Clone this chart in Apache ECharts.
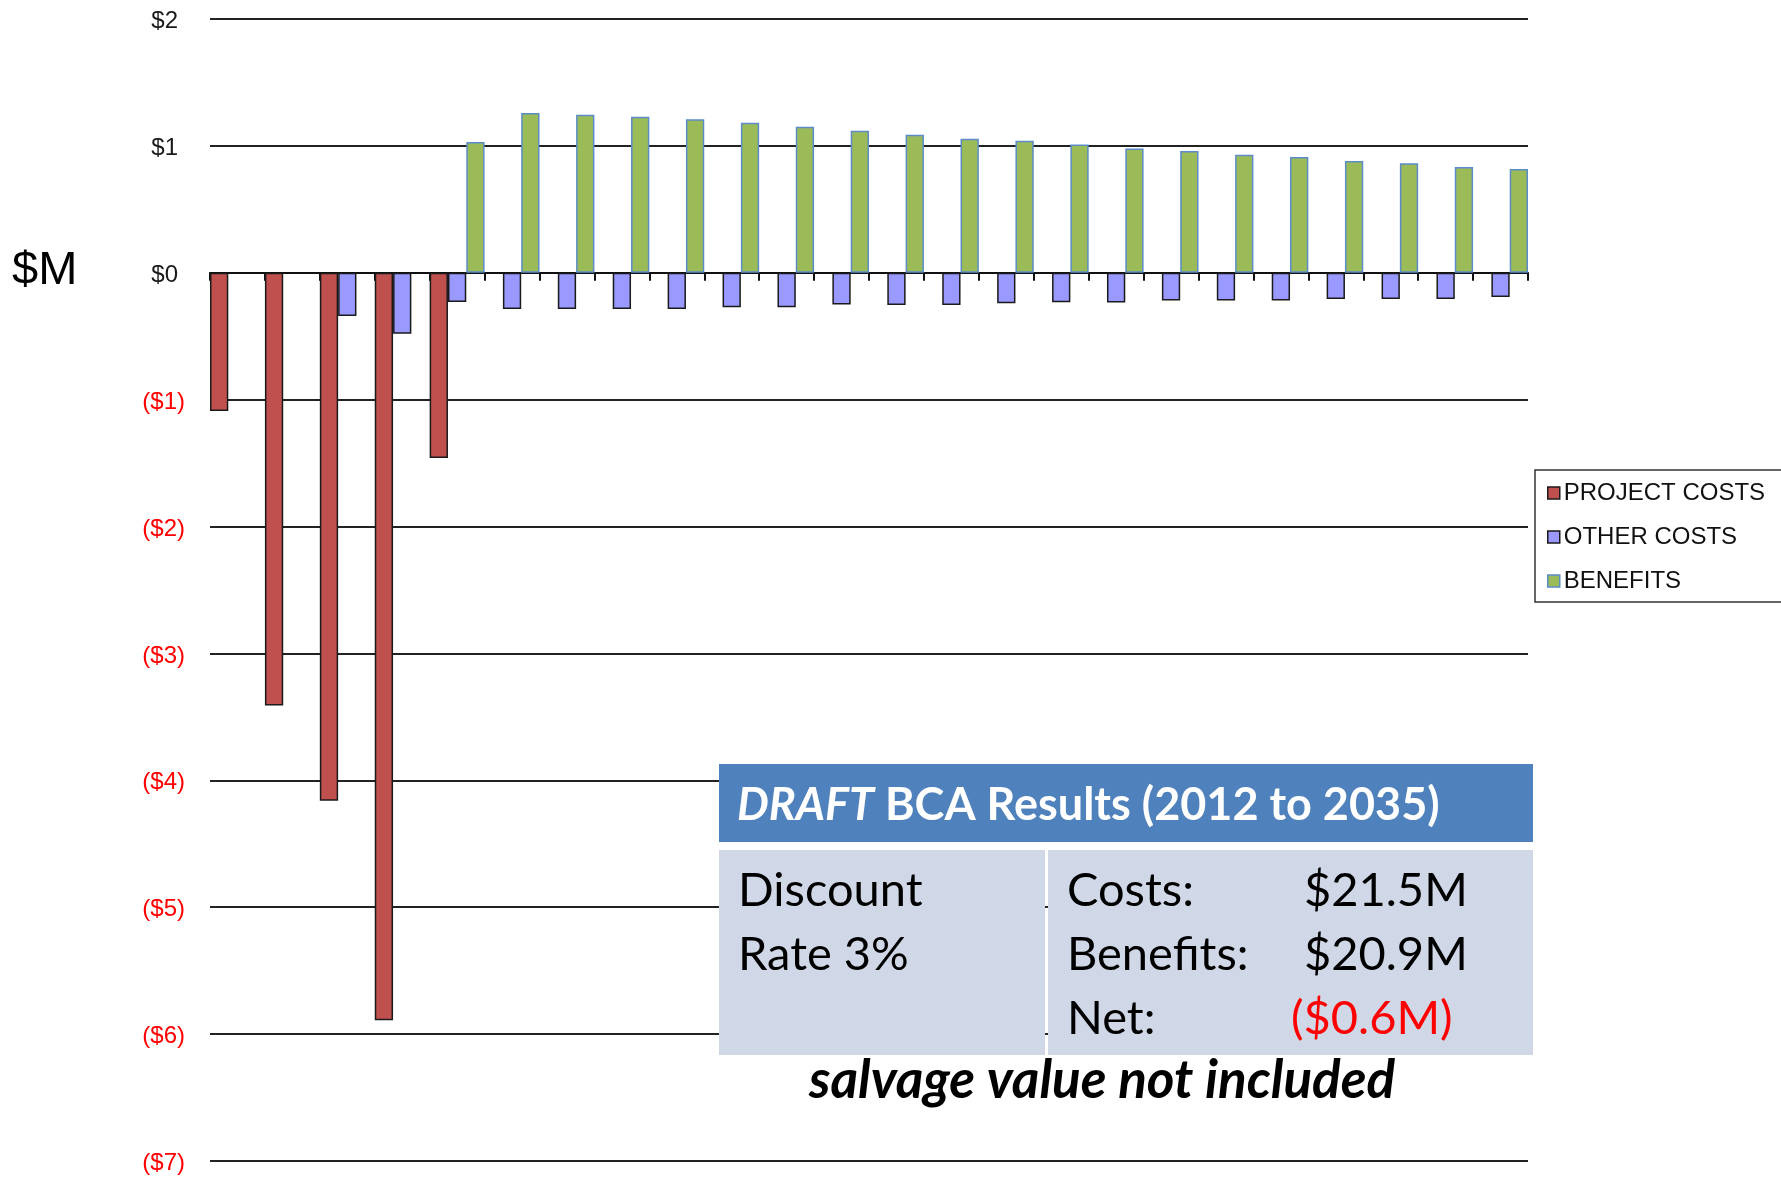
<!DOCTYPE html>
<html>
<head>
<meta charset="utf-8">
<script src="https://cdn.jsdelivr.net/npm/echarts@6/dist/echarts.min.js"></script>
<style>
  html, body { margin: 0; padding: 0; background: #ffffff; }
  #chart { width: 1781px; height: 1179px; }
</style>
</head>
<body>
<div id="chart"></div>
<script>
// ---- data ----
const years = ['2012','2013','2014','2015','2016','2017','2018','2019','2020','2021','2022','2023',
               '2024','2025','2026','2027','2028','2029','2030','2031','2032','2033','2034','2035'];
const projectCosts = [-1.09, -3.41, -4.16, -5.89, -1.46, null, null, null, null, null, null, null,
                      null, null, null, null, null, null, null, null, null, null, null, null];
const otherCosts = [null, null, -0.34, -0.48, -0.23, -0.285, -0.285, -0.285, -0.285, -0.272, -0.272, -0.25,
                    -0.253, -0.253, -0.24, -0.233, -0.235, -0.219, -0.219, -0.219, -0.206, -0.206, -0.206, -0.19];
const benefits = [null, null, null, null, 1.03, 1.26, 1.245, 1.23, 1.21, 1.183, 1.15, 1.12,
                  1.087, 1.057, 1.04, 1.01, 0.98, 0.96, 0.93, 0.912, 0.88, 0.863, 0.834, 0.817];
const yTickValues = [-7, -6, -5, -4, -3, -2, -1, 0, 1, 2];
const yTickLabels = ['($7)', '($6)', '($5)', '($4)', '($3)', '($2)', '($1)', '$0', '$1', '$2'];
const seriesNames = ['PROJECT COSTS', 'OTHER COSTS', 'BENEFITS'];
const tableTitleItalic = 'DRAFT';
const tableTitleRest = ' BCA Results (2012 to 2035)';
const tableLeft = ['Discount', 'Rate 3%'];
const tableRightLabels = ['Costs:', 'Benefits:', 'Net:'];
const tableRightValues = ['$21.5M', '$20.9M', '($0.6M)'];
const footNote = 'salvage value not included';
const yAxisName = '$M';

// ---- styles ----
const fill = ['#c0504d', '#9999ff', '#9bbb59'];
const border = ['#1a1a1a', '#1a1a1a', '#5b8cc8'];

const chart = echarts.init(document.getElementById('chart'));
const bodyFont = 'Lato, "Open Sans", sans-serif';
const bodySize = 47;

function mkSeries(i, data) {
  return {
    name: seriesNames[i],
    type: 'bar',
    data: data,
    barGap: '0%',
    barCategoryGap: '0%',
    itemStyle: { color: fill[i], borderColor: border[i], borderWidth: 1.5 },
    emphasis: { disabled: true }
  };
}

function bodyText(x, y, text, color) {
  return { type: 'text', x: x, y: y, z: 21,
    style: { text: text, font: bodySize + 'px ' + bodyFont, fill: color || '#000000', verticalAlign: 'middle' } };
}

const option = {
  animation: false,
  backgroundColor: '#ffffff',
  grid: { left: 210, right: 253, top: 19, bottom: 18, containLabel: false },
  legend: {
    orient: 'vertical',
    left: 1535,
    top: 470,
    padding: [10, 17, 8, 12],
    borderColor: '#333333',
    borderWidth: 1.5,
    itemWidth: 12,
    itemHeight: 12,
    itemGap: 18,
    icon: 'rect',
    textStyle: { fontFamily: '"Liberation Sans", Arial, sans-serif', fontSize: 24, color: '#111111', lineHeight: 26, padding: [0, 0, 0, -1] },
    data: seriesNames.map((n, i) => ({ name: n, itemStyle: { color: fill[i], borderColor: border[i], borderWidth: 1.5 } }))
  },
  xAxis: {
    type: 'category',
    data: years,
    boundaryGap: true,
    axisLine: { show: true, onZero: true, lineStyle: { color: '#111111', width: 2 } },
    axisTick: { show: true, interval: 0, length: 8, lineStyle: { color: '#111111', width: 2 } },
    axisLabel: { show: false },
    splitLine: { show: false }
  },
  yAxis: {
    type: 'value',
    min: -7,
    max: 2,
    interval: 1,
    axisLine: { show: false },
    axisTick: { show: false },
    splitLine: { show: true, lineStyle: { color: '#222222', width: 2 } },
    axisLabel: {
      margin: 25,
      fontFamily: '"Liberation Sans", Arial, sans-serif',
      fontSize: 24,
      formatter: function (v) {
        const idx = yTickValues.indexOf(Math.round(v));
        const lab = idx >= 0 ? yTickLabels[idx] : '';
        return v < 0 ? '{n|' + lab + '}' : '{p|' + lab + '}';
      },
      rich: {
        n: { color: '#ff0000', fontSize: 24, fontFamily: '"Liberation Sans", Arial, sans-serif', padding: [5, 0, 0, 0] },
        p: { color: '#1a1a1a', fontSize: 24, fontFamily: '"Liberation Sans", Arial, sans-serif', padding: [5, 7, 0, 0] }
      }
    }
  },
  series: [mkSeries(0, projectCosts), mkSeries(1, otherCosts), mkSeries(2, benefits)],
  graphic: [
    { type: 'text', left: 12, top: 248, z: 10,
      style: { text: yAxisName, font: '47px "Liberation Sans", Arial, sans-serif', fill: '#000000' } },
    // table header
    { type: 'rect', shape: { x: 719, y: 764, width: 814, height: 78 }, z: 20,
      style: { fill: '#4f81bd' } },
    { type: 'text', x: 737, y: 805, z: 21,
      style: { text: '{i|' + tableTitleItalic + '}{r|' + tableTitleRest + '}', verticalAlign: 'middle',
        rich: {
          i: { fontStyle: 'italic', fontSize: 45, fontFamily: bodyFont, fill: '#ffffff', fontWeight: 'bold' },
          r: { fontSize: 45, fontFamily: bodyFont, fill: '#ffffff', fontWeight: 'bold' }
        } } },
    // body cells
    { type: 'rect', shape: { x: 719, y: 850, width: 326, height: 205 }, z: 20, style: { fill: '#d0d8e8' } },
    { type: 'rect', shape: { x: 1048, y: 850, width: 485, height: 205 }, z: 20, style: { fill: '#d0d8e8' } },
    bodyText(738, 891, tableLeft[0]),
    bodyText(738, 955, tableLeft[1]),
    bodyText(1067, 891, tableRightLabels[0]),
    bodyText(1067, 955, tableRightLabels[1]),
    bodyText(1067, 1019, tableRightLabels[2]),
    bodyText(1304, 891, tableRightValues[0]),
    bodyText(1304, 955, tableRightValues[1]),
    bodyText(1291, 1019, tableRightValues[2], '#ff0000'),
    { type: 'text', x: 1102, y: 1081, z: 21, style: { text: footNote, font: 'italic bold 53px ' + bodyFont, fill: '#000000', align: 'center', verticalAlign: 'middle' } }
  ]
};
chart.setOption(option);
</script>
</body>
</html>
